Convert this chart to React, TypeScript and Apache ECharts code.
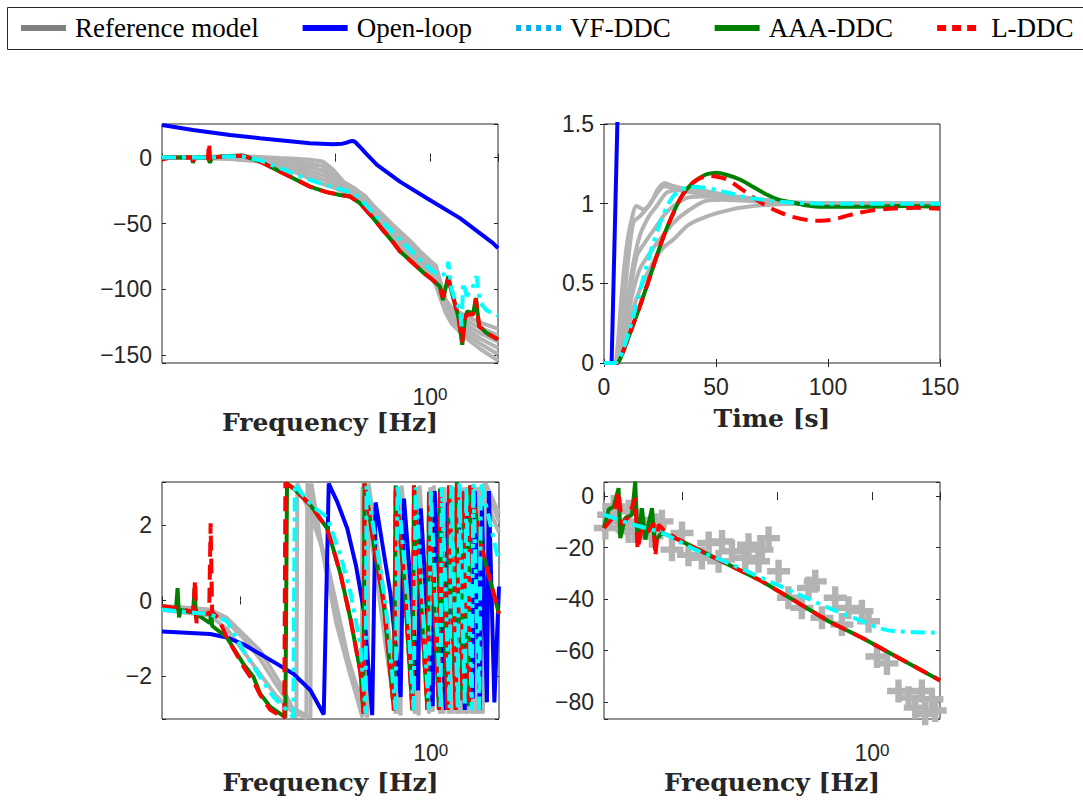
import React, { useEffect, useRef } from 'react';
import * as echarts from 'echarts';

// ---------- common ----------
const F_MIN = 0.00151;
const F_MAX = 5.21;
const PI = 3.14159;

const GRAY = '#b3b3b3';
const BLUE = '#0000ff';
const CYAN = '#00ffff';
const GREEN = '#008000';
const RED = '#ff0000';
const AXIS = '#262626';
const TICK_FONT = 'Liberation Sans, Arial, sans-serif';
const TITLE_FONT = 'DejaVu Serif, serif';
const LEGEND_FONT = 'Liberation Serif, serif';

const legendNames = ['Reference model', 'Open-loop', 'VF-DDC', 'AAA-DDC', 'L-DDC'];

// ---------- top-left: magnitude [dB] ----------
const magFreq = [0.00151, 0.00379, 0.00785, 0.0162, 0.0264, 0.0379, 0.0546, 0.0748, 0.0953, 0.122, 0.166, 0.207, 0.251, 0.336, 0.408, 0.616, 0.785, 1.0, 1.16, 1.31, 1.47, 1.70, 2.34, 3.36, 5.21];
const refMag1 = [0, 0.5, 1, 0.5, -0.3, -0.8, -1.7, -3, -9, -18, -24, -29, -36, -45, -51, -63, -71, -78, -82, -96, -108, -114, -120, -125, -130];
const refMag2 = [0, 0.3, 0.6, -0.2, -1.6, -2.8, -4.6, -6.4, -11.7, -19.6, -25.4, -30.4, -37.8, -47.2, -53.6, -65.4, -73.2, -80.2, -85, -98.4, -110, -116.4, -123.2, -129, -134.8];
const refMag3 = [0, 0.2, 0.2, -0.9, -3, -4.9, -7.4, -9.8, -14.4, -21.2, -26.8, -31.8, -39.6, -49.4, -56.2, -67.8, -75.4, -82.4, -88, -100.8, -112, -118.8, -126.4, -133, -139.6];
const refMag4 = [0, 0, -0.2, -1.6, -4.3, -6.9, -10.3, -13.2, -17.1, -22.8, -28.2, -33.2, -41.4, -51.6, -58.8, -70.2, -77.6, -84.6, -91, -103.2, -114, -121.2, -129.6, -137, -144.4];
const refMag5 = [0, -0.1, -0.6, -2.3, -5.7, -9, -13.1, -16.6, -19.8, -24.4, -29.6, -34.6, -43.2, -53.8, -61.4, -72.6, -79.8, -86.8, -94, -105.6, -116, -123.6, -132.8, -141, -149.2];
const refMag6 = [0, -0.3, -1, -3, -7, -11, -16, -20, -22.5, -26, -31, -36, -45, -56, -64, -75, -82, -89, -97, -108, -118, -126, -136, -145, -154];

const olMagFreq = [0.00151, 0.0032, 0.00785, 0.0162, 0.0546, 0.0953, 0.12, 0.133, 0.144, 0.152, 0.158, 0.165, 0.17, 0.19, 0.207, 0.277, 0.483, 0.93, 2.07, 4.61, 5.21];
const olMag = [24.8, 20.9, 17.2, 14.7, 10.9, 10.2, 10.6, 11.4, 12.3, 12.6, 12.4, 11.6, 10.5, 7.0, 4.0, -5.5, -18.2, -30.8, -45.9, -64.8, -68.7];

const aaaMag = [[0.00151, 0], [0.00264, 0], [0.00312, 0], [0.0032, -4], [0.00332, 0], [0.0046, 0], [0.00483, -4], [0.00507, 0], [0.00724, 1.2], [0.0108, 1.5], [0.0162, -3], [0.0243, -9.3], [0.0364, -15.6], [0.0546, -22], [0.0818, -26.2], [0.113, -28.3], [0.144, -29.5], [0.183, -34.5], [0.253, -45.9], [0.32, -55], [0.408, -64], [0.483, -71], [0.662, -80], [0.844, -87], [1.08, -93], [1.27, -97.7], [1.37, -108], [1.56, -90], [1.69, -101.5], [1.99, -120.5], [2.19, -142], [2.34, -121.7], [2.47, -116.7], [2.86, -118], [3.05, -106.5], [3.30, -128], [3.95, -133], [5.21, -138]];
const lMag = [[0.00151, -1.5], [0.00183, 0], [0.00312, 0], [0.0032, -3], [0.00332, 0], [0.0046, 0], [0.00472, 11], [0.00489, -4], [0.0052, 0], [0.00724, 1.2], [0.0108, 1.5], [0.0162, -3], [0.0243, -9.3], [0.0364, -15.6], [0.0546, -22], [0.0818, -26.2], [0.113, -28.3], [0.144, -29.5], [0.183, -34.5], [0.253, -45.9], [0.32, -55], [0.408, -64], [0.483, -71], [0.662, -80], [0.844, -87], [1.08, -93], [1.27, -97.7], [1.37, -106], [1.56, -92], [1.69, -101.5], [1.99, -120], [2.19, -140], [2.34, -121], [2.47, -119], [2.86, -119], [3.05, -107], [3.30, -128], [3.95, -133], [5.21, -138]];
const vfMag = [[0.00151, 0], [0.00483, 0], [0.00724, 1], [0.0108, 0.8], [0.0162, -2], [0.0243, -7], [0.0364, -12], [0.0546, -17], [0.0818, -21], [0.122, -24.5], [0.156, -27], [0.183, -31], [0.253, -42], [0.411, -57], [0.662, -72], [0.844, -80], [1.13, -87], [1.27, -90], [1.44, -88], [1.52, -86], [1.56, -79], [1.69, -100], [1.88, -110], [2.07, -115], [2.15, -128], [2.24, -95], [2.45, -105], [2.77, -100], [3.10, -90], [3.36, -110], [3.98, -116], [5.21, -120]];

// ---------- top-right: step response ----------
const refStep1 = [[0, 0], [4.5, 0], [6, 0.1], [8, 0.45], [10, 0.72], [12, 0.88], [14.6, 0.985], [17.6, 0.965], [20.5, 0.995], [24, 1.09], [27.2, 1.13], [30, 1.115], [33.9, 1.1], [40, 1.085], [45.8, 1.07], [60.7, 1.03], [75.6, 1.005], [90, 1.0], [150, 1.0]];
const refStep2 = [[0, 0], [4.5, 0], [6.5, 0.08], [9, 0.4], [13, 0.88], [16, 0.92], [19, 0.97], [22, 1.03], [27, 1.11], [30, 1.1], [35, 1.08], [45, 1.06], [60, 1.03], [75, 1.005], [90, 1.0], [150, 1.0]];
const refStep3 = [[0, 0], [4.5, 0], [7, 0.08], [10, 0.35], [13, 0.62], [16, 0.8], [20, 0.92], [23.5, 0.985], [28, 1.07], [33, 1.085], [38.4, 1.09], [45, 1.08], [53, 1.06], [65, 1.035], [75.6, 1.02], [90, 1.005], [150, 1.0]];
const refStep4 = [[0, 0], [4.5, 0], [7, 0.06], [10, 0.3], [14.6, 0.67], [18, 0.75], [23.5, 0.86], [27, 0.93], [31, 0.985], [38, 1.04], [45, 1.045], [55, 1.04], [65, 1.025], [75, 1.01], [90, 1.0], [150, 1.0]];
const refStep5 = [[0, 0], [4.5, 0], [7, 0.05], [10, 0.25], [13, 0.45], [16, 0.59], [20, 0.68], [23.5, 0.75], [31, 0.88], [38, 0.96], [46, 1.02], [53, 1.025], [60.7, 1.02], [75, 1.01], [90, 1.0], [150, 1.0]];
const refStep6 = [[0, 0], [4.5, 0], [7, 0.04], [10, 0.18], [13, 0.34], [16, 0.46], [20, 0.58], [23.5, 0.67], [27, 0.73], [31, 0.775], [38, 0.87], [46, 0.92], [53, 0.95], [60.7, 0.975], [75.6, 0.995], [90, 1.0], [150, 1.0]];
const olStep = [[0, 0], [3.4, 0], [6.3, 1.7]];
const aaaStep = [[0, 0], [5.7, 0], [7, 0.02], [10, 0.126], [13, 0.24], [16, 0.356], [20, 0.52], [23.5, 0.67], [27, 0.81], [31, 0.943], [34, 1.03], [36.9, 1.09], [40, 1.135], [42.9, 1.163], [46, 1.185], [50.3, 1.194], [55, 1.18], [60.7, 1.152], [66, 1.11], [72.6, 1.058], [78, 1.025], [84.5, 1.006], [90, 0.99], [97.9, 0.98], [112.8, 0.98], [135, 0.985], [150, 0.98]];
const lStep = [[0, 0], [5.7, 0], [7, 0.02], [10, 0.126], [13, 0.24], [16, 0.356], [20, 0.52], [23.5, 0.67], [27, 0.81], [31, 0.943], [34, 1.03], [36.9, 1.09], [40, 1.135], [42.9, 1.16], [47.3, 1.173], [50, 1.17], [54.8, 1.152], [59, 1.115], [63.7, 1.069], [68, 1.025], [72.6, 0.985], [77, 0.955], [83, 0.922], [92, 0.895], [97, 0.893], [102, 0.9], [107, 0.918], [112.8, 0.94], [120, 0.958], [127.7, 0.968], [139.6, 0.974], [150, 0.968]];
const vfStep = [[0, 0], [5, 0], [6.5, 0.02], [8.6, 0.084], [11, 0.19], [13.1, 0.293], [16, 0.45], [19, 0.61], [22, 0.75], [25, 0.88], [28, 0.98], [31, 1.048], [34, 1.08], [36.9, 1.1], [41.4, 1.105], [45, 1.1], [48.8, 1.09], [55, 1.07], [60.7, 1.048], [68, 1.03], [75.6, 1.016], [85, 1.006], [100, 1.0], [150, 1.0]];

// ---------- bottom-left: phase [rad] ----------
const refPh1 = [[0.00151, -0.14], [0.00483, -0.24], [0.00724, -0.46], [0.0108, -0.89], [0.0162, -1.33], [0.0207, -1.77], [0.0264, -2.21], [0.0336, -2.74], [0.0389, -3.1], [0.0398, 3.1], [0.0546, 2.3], [0.0818, 1.0], [0.113, -0.6], [0.151, -2.1], [0.192, -3.1], [0.197, 3.1], [0.264, 1.0], [0.361, -1.5], [0.46, -3.0], [0.472, 3.0], [0.587, 0.5], [0.712, -3.0], [0.73, 3.0], [1.0, -2.9], [1.02, 3.0], [1.31, -3.0], [1.34, 3.0], [1.62, -3.0], [1.66, 3.0], [1.97, -3.0], [2.02, 3.0], [2.34, -3.0], [2.39, 3.0], [2.84, -3.0], [2.91, 3.0], [3.36, -3.0], [3.61, 3.1], [5.21, 2.1]];
const refPh2 = [[0.00151, -0.25], [0.00483, -0.4], [0.00724, -0.75], [0.0108, -1.35], [0.0162, -1.95], [0.0234, -2.5], [0.0336, -2.9], [0.0495, -3.12], [0.0507, 3.12], [0.0695, 1.6], [0.0953, -0.06], [0.133, -1.47], [0.183, -2.6], [0.217, -3.1], [0.223, 3.1], [0.298, 0.8], [0.398, -1.6], [0.483, -3.05], [0.495, 3.05], [0.616, 0.4], [0.748, -3.05], [0.766, 3.05], [1.05, -2.95], [1.08, 3.05], [1.37, -3.0], [1.40, 3.0], [1.70, -3.0], [1.75, 3.0], [2.07, -3.0], [2.12, 3.0], [2.45, -3.0], [2.51, 3.0], [2.97, -3.0], [3.05, 3.0], [3.53, -3.0], [3.79, 3.1], [5.21, 2.3]];
const refPh3 = [[0.00151, -0.2], [0.00483, -0.3], [0.00724, -0.55], [0.0108, -1.0], [0.0162, -1.55], [0.0234, -2.2], [0.0353, -2.85], [0.0546, -3.1], [0.0559, 3.1], [0.073, 1.3], [0.102, -0.6], [0.144, -2.0], [0.188, -3.0], [0.192, 3.0], [0.253, 1.2], [0.336, -1.2], [0.428, -3.0], [0.44, 3.0], [0.55, 0.4], [0.68, -3.0], [0.70, 3.0], [0.96, -3.0], [0.99, 3.0], [1.25, -3.0], [1.28, 3.0], [1.55, -3.0], [1.59, 3.0], [1.88, -3.0], [1.93, 3.0], [2.25, -3.0], [2.30, 3.0], [2.70, -3.0], [2.77, 3.0], [3.20, -3.0], [3.30, 3.0], [5.21, 1.8]];
const olPhase = [[0.00151, -0.82], [0.00483, -0.89], [0.00724, -0.98], [0.0108, -1.16], [0.0162, -1.42], [0.0243, -1.68], [0.0364, -1.95], [0.0546, -2.38], [0.0753, -3.02], [0.085, 3.1], [0.105, 2.6], [0.133, 1.91], [0.165, 0.9], [0.199, -0.28], [0.243, -3.04], [0.264, 2.6], [0.32, 1.3], [0.379, 0.16], [0.483, -2.56], [0.524, 2.7], [0.62, 0.3], [0.735, -2.38], [0.785, 2.44], [1.05, -2.8], [1.10, 2.9], [1.44, -2.9], [1.51, 2.6], [1.83, -2.5], [1.92, 2.8], [2.28, -2.9], [2.39, 2.7], [2.77, -2.6], [2.91, 2.9], [3.28, -2.9], [3.44, 2.5], [3.89, -2.7], [4.08, 2.9], [4.66, -2.7], [5.21, 0.37]];
const aaaPhase = [[0.00151, -0.15], [0.00212, -0.22], [0.0022, 0.33], [0.00228, -0.45], [0.00236, -0.25], [0.0032, -0.32], [0.00332, 0.33], [0.00344, -0.5], [0.00357, -0.38], [0.00483, -0.6], [0.00495, -0.3], [0.00507, -0.67], [0.00724, -0.98], [0.0108, -1.68], [0.0138, -2.03], [0.0162, -2.47], [0.0207, -2.82], [0.0298, -3.1], [0.031, 3.1], [0.0364, 2.97], [0.0546, 2.53], [0.0818, 1.91], [0.0953, 1.35], [0.113, 0.7], [0.144, -0.5], [0.183, -1.9], [0.197, -3.0], [0.202, 3.1], [0.253, 1.47], [0.322, -0.1], [0.411, -2.91], [0.428, 3.05], [0.524, 0.6], [0.642, -2.91], [0.667, 3.05], [0.923, -2.9], [0.96, 2.88], [1.22, -2.9], [1.25, 2.97], [1.50, -2.9], [1.56, 3.05], [1.83, -2.9], [1.88, 3.14], [2.16, -2.64], [2.23, 2.9], [2.51, -2.8], [2.60, 3.05], [3.50, 1.3], [5.21, -0.35]];
const lPhase = [[0.00151, -0.15], [0.00212, -0.2], [0.0032, -0.3], [0.00336, 0.54], [0.00348, -0.6], [0.00361, -0.35], [0.00472, -0.35], [0.00489, 2.05], [0.00507, -0.3], [0.00587, -0.46], [0.00724, -0.98], [0.0108, -1.75], [0.0138, -2.15], [0.0162, -2.5], [0.0207, -2.9], [0.029, -3.12], [0.0298, 3.12], [0.0364, 2.97], [0.0546, 2.53], [0.0818, 1.91], [0.0953, 1.35], [0.113, 0.7], [0.144, -0.5], [0.183, -1.9], [0.197, -3.0], [0.202, 3.1], [0.253, 1.47], [0.322, -0.1], [0.411, -2.91], [0.428, 3.05], [0.524, 0.6], [0.642, -2.91], [0.667, 3.05], [0.923, -2.9], [0.96, 2.88], [1.22, -2.9], [1.25, 2.97], [1.50, -2.9], [1.56, 3.05], [1.83, -2.9], [1.88, 3.14], [2.16, -2.64], [2.23, 2.9], [2.51, -2.8], [2.60, 3.05], [3.50, 1.3], [5.21, -0.35]];
const vfPhase = [[0.00151, -0.24], [0.00483, -0.37], [0.00724, -0.54], [0.0108, -1.33], [0.0162, -2.03], [0.0224, -2.56], [0.031, -2.91], [0.0361, -3.1], [0.0375, 3.1], [0.0428, 2.88], [0.0573, 2.5], [0.0818, 2.2], [0.113, 1.2], [0.144, 0.2], [0.183, -1.2], [0.207, -3.0], [0.212, 3.05], [0.264, 1.6], [0.336, -0.1], [0.428, -2.9], [0.449, 3.05], [0.546, 0.6], [0.662, -2.9], [0.695, 3.0], [0.953, -2.9], [1.0, 2.95], [1.27, -2.9], [1.31, 3.0], [1.58, -2.85], [1.64, 3.05], [1.92, -2.9], [2.0, 3.1], [2.28, -2.8], [2.36, 3.0], [2.70, -2.9], [2.80, 3.1], [3.24, -2.9], [3.36, 3.13], [5.21, 1.0]];

// ---------- bottom-right: magnitude [dB] ----------
const refPoints = [[0.00156, -12.4], [0.00169, -7.2], [0.00191, -4.0], [0.00215, -9.8], [0.00274, -5.9], [0.00274, -13.7], [0.00322, -13.7], [0.00349, -9.8], [0.00411, -12.4], [0.00483, -15.6], [0.00524, -11.1], [0.00615, -9.8], [0.00785, -20.8], [0.01, -14.3], [0.0117, -22.8], [0.0162, -24], [0.0191, -18.2], [0.0243, -25.3], [0.0264, -17.6], [0.0336, -21.4], [0.0464, -24], [0.0502, -18.9], [0.064, -25.3], [0.0695, -20.8], [0.0816, -16.3], [0.104, -29.2], [0.132, -39.5], [0.183, -43.4], [0.215, -35.7], [0.253, -33.1], [0.298, -47.3], [0.411, -39.5], [0.483, -49.9], [0.567, -43.4], [0.785, -44.7], [0.921, -48.6], [1.13, -62.3], [1.44, -65], [1.905, -75.7], [2.43, -78.3], [2.86, -82.2], [3.36, -75.7], [3.64, -84.6], [4.28, -78.9], [4.64, -83.3]];
const aaaBR = [[0.00151, -12.4], [0.00169, -5.3], [0.00191, -4], [0.00215, 3.1], [0.00224, -16.3], [0.00253, -8.5], [0.00298, -7.2], [0.00322, 5.7], [0.00341, -18.2], [0.00379, -4.7], [0.00411, -16.9], [0.00483, -4.7], [0.00515, -17.6], [0.00615, -14.3], [0.0092, -16.9], [0.0138, -20.2], [0.0309, -26.6], [0.0695, -33.1], [0.156, -40.8], [0.349, -48.6], [0.785, -55], [1.76, -62.1], [5.21, -71.6]];
const lBR = [[0.00151, -12.4], [0.00191, -8], [0.00215, 1.8], [0.00233, -11.1], [0.00274, -7.9], [0.00322, -0.8], [0.00341, -20.8], [0.00378, -12.4], [0.00445, -13.7], [0.00502, -10.5], [0.00524, -23.4], [0.00567, -11.1], [0.00667, -13.7], [0.0092, -16.9], [0.0138, -20.2], [0.0309, -26.6], [0.0695, -33.1], [0.156, -40.8], [0.349, -48.6], [0.785, -55], [1.76, -62.1], [5.21, -71.6]];
const vfBR = [[0.00151, -7.2], [0.00274, -10.5], [0.00615, -14.3], [0.0138, -20.8], [0.0309, -26], [0.0695, -31.8], [0.156, -37.6], [0.349, -43.4], [0.785, -48.6], [1.17, -51.2], [1.76, -52.5], [5.21, -53.1]];

// ---------- tick lists ----------
const tlYTicks = [-150, -100, -50, 0];
const blYTicks = [-2, 0, 2];
const brYTicks = [-80, -60, -40, -20, 0];

const fmtNum = (v: number) => (v < 0 ? '\u2212' : '') + String(Math.abs(v));

const grids = [
  { left: 162, top: 124, width: 336, height: 239 },
  { left: 604, top: 124, width: 336, height: 239 },
  { left: 162, top: 482, width: 337, height: 237 },
  { left: 604, top: 482, width: 336, height: 237 },
];

const tick = { show: true, inside: true, length: 4, lineStyle: { color: AXIS, width: 1 } };
const labelBase = { fontFamily: TICK_FONT, fontSize: 23, color: AXIS };
const nameStyle = { fontFamily: TITLE_FONT, fontWeight: 'bold' as const, fontSize: 25, color: AXIS };

function logX(gi: number, nameGap: number) {
  const base = { type: 'log', logBase: 10, min: F_MIN, max: F_MAX, gridIndex: gi, axisLine: { show: false }, splitLine: { show: false }, axisTick: tick };
  return [
    {
      ...base, position: 'bottom', name: 'Frequency [Hz]', nameLocation: 'middle', nameGap, nameTextStyle: nameStyle,
      axisLabel: {
        margin: 23,
        formatter: (v: number) => (Math.abs(v - 1) < 1e-6 ? '{b|10}{s|0}' : ''),
        rich: {
          b: { ...labelBase, lineHeight: 22 },
          s: { fontFamily: TICK_FONT, fontSize: 17, color: AXIS, verticalAlign: 'top', lineHeight: 14 },
        },
      },
    },
    { ...base, position: 'top', axisLabel: { show: false } },
  ];
}

function valY(gi: number, min: number, max: number, extra: any, ticks: number[] | null) {
  const base = { type: 'value', min, max, gridIndex: gi, axisLine: { show: false }, splitLine: { show: false }, axisTick: tick, ...extra };
  return [
    {
      ...base, position: 'left',
      axisLabel: {
        ...labelBase, margin: 10,
        formatter: (v: number) => (ticks ? (ticks.includes(v) ? fmtNum(v) : '') : fmtNum(v)),
      },
    },
    { ...base, position: 'right', axisLabel: { show: false } },
  ];
}

const xAxes = [
  ...logX(0, 47),
  {
    type: 'value', min: 0, max: 150, interval: 50, gridIndex: 1, position: 'bottom', axisLine: { show: false }, splitLine: { show: false }, axisTick: tick,
    name: 'Time [s]', nameLocation: 'middle', nameGap: 43, nameTextStyle: nameStyle,
    axisLabel: { ...labelBase, margin: 12, formatter: (v: number) => fmtNum(v) },
  },
  { type: 'value', min: 0, max: 150, interval: 50, gridIndex: 1, position: 'top', axisLine: { show: false }, splitLine: { show: false }, axisTick: tick, axisLabel: { show: false } },
  ...logX(2, 51),
  ...logX(3, 51),
];

const yAxes = [
  ...valY(0, -155.8, 25.5, { splitNumber: 3 }, tlYTicks),
  ...valY(1, 0, 1.5, { interval: 0.5 }, null),
  ...valY(2, -PI, PI, { splitNumber: 3 }, blYTicks),
  ...valY(3, -86.6, 5.5, { splitNumber: 5 }, brYTicks),
];

function line(name: string, data: any[], gi: number, color: string, type: any = 'solid', smooth: number | boolean = false, width = 4) {
  return {
    type: 'line', name, data, xAxisIndex: gi * 2, yAxisIndex: gi * 2, symbol: 'none', showSymbol: false,
    smooth,
    lineStyle: { color, width, type, cap: 'butt' }, itemStyle: { color },
    emphasis: { disabled: true }, silent: true, clip: true,
  };
}

const RED_DASH = [15, 8];
const CYAN_DASH = [14, 6, 4, 6];
const hiddenSymbol = { opacity: 0 };

function buildOption() {
  const pair = (xs: number[], ys: number[]) => xs.map((x, i) => [x, ys[i]]);
  const series: any[] = [];
  // top-left
  [refMag1, refMag2, refMag3, refMag4, refMag5, refMag6].forEach((m) => series.push(line('Reference model', pair(magFreq, m), 0, GRAY)));
  series.push(line('Open-loop', pair(olMagFreq, olMag), 0, BLUE));
  series.push(line('AAA-DDC', aaaMag, 0, GREEN));
  series.push(line('L-DDC', lMag, 0, RED, RED_DASH));
  series.push(line('VF-DDC', vfMag, 0, CYAN, CYAN_DASH));
  // top-right
  [refStep1, refStep2, refStep3, refStep4, refStep5, refStep6].forEach((s) => series.push(line('Reference model', s, 1, GRAY, 'solid', 0.3)));
  series.push(line('Open-loop', olStep, 1, BLUE));
  series.push(line('AAA-DDC', aaaStep, 1, GREEN, 'solid', 0.3));
  series.push(line('L-DDC', lStep, 1, RED, RED_DASH, 0.3));
  series.push(line('VF-DDC', vfStep, 1, CYAN, CYAN_DASH, 0.3));
  // bottom-left
  [refPh1, refPh2, refPh3].forEach((p) => series.push(line('Reference model', p, 2, GRAY)));
  series.push(line('Open-loop', olPhase, 2, BLUE));
  series.push(line('AAA-DDC', aaaPhase, 2, GREEN));
  series.push(line('L-DDC', lPhase, 2, RED, RED_DASH));
  series.push(line('VF-DDC', vfPhase, 2, CYAN, CYAN_DASH));
  // bottom-right
  series.push({
    type: 'scatter', name: 'Reference model', data: refPoints, xAxisIndex: 6, yAxisIndex: 6,
    symbol: 'path://M6.5,0H11.5V6.5H18V11.5H11.5V18H6.5V11.5H0V6.5H6.5Z', symbolSize: 23,
    itemStyle: { color: GRAY, opacity: 1 }, emphasis: { disabled: true }, silent: true,
  });
  series.push(line('AAA-DDC', aaaBR, 3, GREEN));
  series.push(line('L-DDC', lBR, 3, RED, RED_DASH));
  series.push(line('VF-DDC', vfBR, 3, CYAN, CYAN_DASH, 0.3));

  return {
    animation: false,
    backgroundColor: '#ffffff',
    grid: grids.map((g) => ({ ...g, show: true, borderColor: AXIS, borderWidth: 1, backgroundColor: '#ffffff' })),
    xAxis: xAxes,
    yAxis: yAxes,
    legend: {
      left: 18, top: 14, padding: 0, itemWidth: 45, itemHeight: 14, itemGap: 41,
      selectedMode: false,
      textStyle: { fontFamily: LEGEND_FONT, fontSize: 27, color: '#000000', padding: [0, 0, 0, 4], lineHeight: 28 },
      data: [
        { name: legendNames[0], itemStyle: hiddenSymbol, lineStyle: { color: '#808080', width: 6, type: 'solid' } },
        { name: legendNames[1], itemStyle: hiddenSymbol, lineStyle: { color: BLUE, width: 6, type: 'solid' } },
        { name: legendNames[2], itemStyle: hiddenSymbol, lineStyle: { color: '#00b0f0', width: 6, type: [5, 5] } },
        { name: legendNames[3], itemStyle: hiddenSymbol, lineStyle: { color: GREEN, width: 6, type: 'solid' } },
        { name: legendNames[4], itemStyle: hiddenSymbol, lineStyle: { color: RED, width: 6, type: [9, 6] } },
      ],
    },
    graphic: [
      { type: 'rect', shape: { x: 7.5, y: 7.5, width: 1090, height: 42 }, style: { fill: 'none', stroke: AXIS, lineWidth: 1 }, silent: true, z: -1 },
    ],
    series,
  };
}

export default function App() {
  const ref = useRef<HTMLDivElement>(null);
  useEffect(() => {
    if (!ref.current) return;
    const chart = echarts.init(ref.current, null, { renderer: 'svg' });
    chart.setOption(buildOption() as any);
    return () => chart.dispose();
  }, []);
  return <div ref={ref} style={{ position: 'absolute', left: 0, top: 0, width: 1083, height: 801 }} />;
}
